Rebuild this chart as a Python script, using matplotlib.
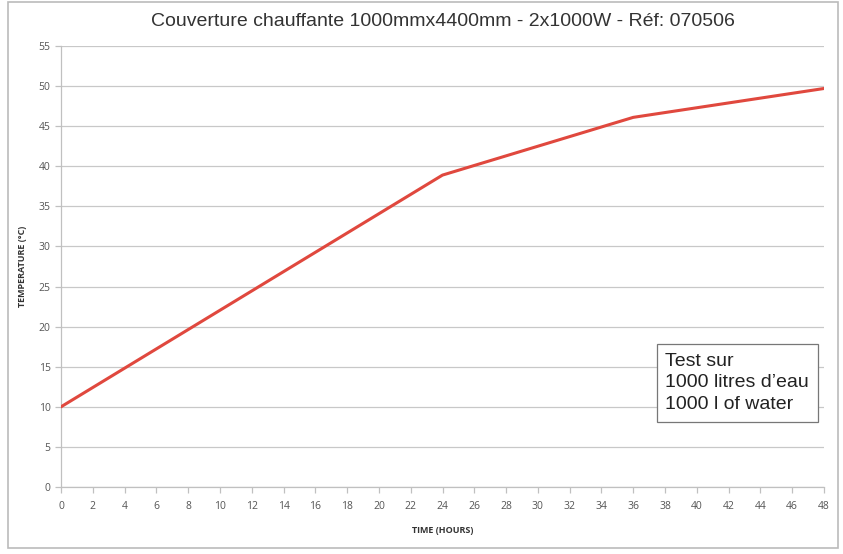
import matplotlib.pyplot as plt
from matplotlib.patches import Rectangle

# data
hours = [0, 24, 36, 48]
temperature = [10.0, 38.9, 46.1, 49.7]
x_ticks = list(range(0, 49, 2))
y_ticks = list(range(0, 56, 5))

W, H = 843, 554
fig = plt.figure(figsize=(W / 100, H / 100), dpi=100)
ax = fig.add_axes([61 / W, 1 - 487 / H, (824 - 61) / W, (487 - 46) / H])

ax.plot(hours, temperature, color='#e0483e', lw=2.2, solid_capstyle='round', zorder=3)

ax.set_xlim(0, 48)
ax.set_ylim(0, 55)
ax.set_xticks(x_ticks)
ax.set_yticks(y_ticks)
ax.grid(axis='y', color='#c8c8c8', lw=0.9)
ax.set_axisbelow(True)
for s in ['top', 'right']:
    ax.spines[s].set_visible(False)
for s in ['left', 'bottom']:
    ax.spines[s].set_color('#c0c0c0')
    ax.spines[s].set_linewidth(0.9)
ax.tick_params(colors='#c0c0c0', labelcolor='#555555', labelsize=7.5, length=4, width=0.9)
ax.tick_params(axis='x', pad=6)
for lab in ax.get_xticklabels() + ax.get_yticklabels():
    lab.set_family('Open Sans')

ax.set_xlabel('TIME (HOURS)', fontsize=6.5, fontweight='bold', color='#333333',
              family='Open Sans', labelpad=10)
ax.set_ylabel('TEMPERATURE (°C)', fontsize=6.5, fontweight='bold', color='#333333',
              family='Open Sans', labelpad=8)

fig.text(443 / W, 1 - 22 / H, 'Couverture chauffante 1000mmx4400mm - 2x1000W - Réf: 070506',
         ha='center', va='center', fontsize=14, family='Liberation Sans', color='#333333')

ax.text(0.792, 0.236, 'Test sur\n1000 litres d\u2019eau\n1000 l of water',
        transform=ax.transAxes, ha='left', va='center', fontsize=14,
        family='Liberation Sans', color='#222222', linespacing=1.35,
        bbox=dict(boxstyle='square,pad=0.45', fc='white', ec='#777777', lw=0.9))

fig.patches.append(Rectangle((8 / W, 1 - 548 / H), 830 / W, 546 / H, transform=fig.transFigure,
                             fill=False, ec='#bbbbbb', lw=1.2))

fig.savefig('out.png', dpi=100)
